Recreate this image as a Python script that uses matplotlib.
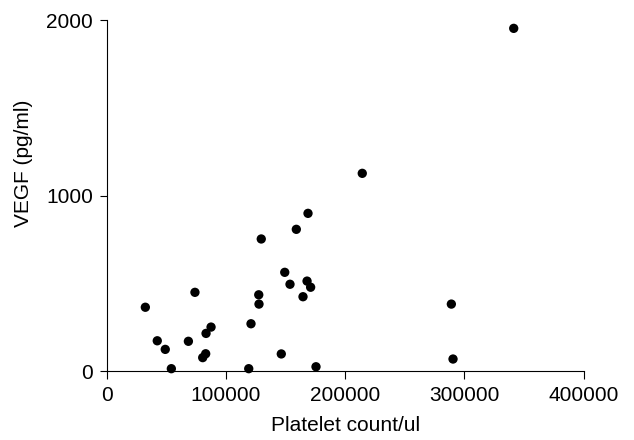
import numpy as np
import matplotlib
matplotlib.use('Agg')
import matplotlib.pyplot as plt

# recuento de plaquetas (/ul) y VEGF (pg/ml)
plaquetas = [32400, 42400, 49100, 54200, 74000, 68500, 83300, 87500, 80500, 83000,
             119100, 121000, 127500, 127700, 149300, 153700, 146400, 168000, 171000,
             164600, 175500, 129600, 159000, 168800, 214300, 341300, 289000, 290400]
vegf = [365, 174, 125, 15, 450, 171, 216, 252, 78, 100,
        15, 271, 436, 383, 564, 496, 99, 514, 479,
        425, 26, 754, 809, 900, 1128, 1954, 383, 70]

plt.rcParams['font.family'] = ['Liberation Sans', 'DejaVu Sans']
TAM = 15

fig = plt.figure(figsize=(6.34, 4.4), dpi=100)
ax = fig.add_axes([0.1683, 0.1561, 0.9207 - 0.1683, 0.9539 - 0.1561])

ax.scatter(plaquetas, vegf, s=45, c='black', edgecolors='none', clip_on=False, zorder=3)

ax.set_xlim(0, 400000)
ax.set_ylim(0, 2000)
ax.set_xticks([0, 100000, 200000, 300000, 400000])
ax.set_yticks([0, 1000, 2000])

for s in ['top', 'right']:
    ax.spines[s].set_visible(False)
for s in ['left', 'bottom']:
    ax.spines[s].set_linewidth(0.8)

ax.tick_params(axis='x', direction='out', length=6, width=0.8, pad=4.5, labelsize=TAM)
ax.tick_params(axis='y', direction='out', length=5, width=0.8, pad=5, labelsize=TAM)

ax.set_xlabel('Platelet count/ul', fontsize=TAM, labelpad=8)
ax.set_ylabel('VEGF (pg/ml)', fontsize=TAM)
ax.yaxis.set_label_coords(-0.155, 0.592)

fig.savefig('out.png', dpi=100)
